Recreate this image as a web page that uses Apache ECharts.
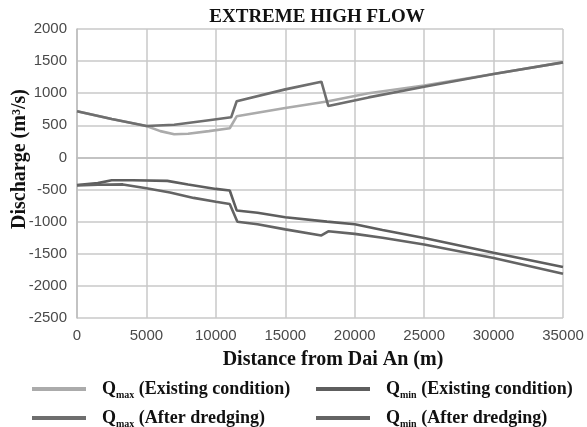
<!DOCTYPE html>
<html>
<head>
<meta charset="utf-8">
<script src="https://cdn.jsdelivr.net/npm/echarts@6/dist/echarts.min.js"></script>
<style>
  html, body { margin: 0; padding: 0; background: #fff; }
  #chart { width: 587px; height: 427px; }
</style>
</head>
<body>
<div id="chart"></div>
<script>
// Distance along the river (m) and discharge (m3/s) for each scenario
const qmaxExistX = [0, 2500, 5000, 6000, 7000, 8000, 9500, 11000, 11500, 15000, 18000, 21000, 25000, 30000, 35000];
const qmaxExistY = [720, 600, 490, 410, 360, 370, 410, 455, 640, 770, 870, 1000, 1120, 1300, 1480];

const qmaxDredgeX = [0, 2500, 5000, 7000, 9500, 11100, 11500, 15000, 17600, 18100, 21000, 25000, 30000, 35000];
const qmaxDredgeY = [720, 600, 490, 510, 580, 625, 875, 1060, 1180, 800, 935, 1100, 1300, 1480];

const qminExistX = [0, 1500, 2500, 4000, 6500, 8000, 10000, 11000, 11500, 13000, 15000, 18000, 20000, 22000, 25000, 30000, 35000];
const qminExistY = [-430, -400, -355, -355, -365, -420, -490, -515, -825, -860, -930, -1000, -1040, -1130, -1255, -1485, -1705];

const qminDredgeX = [0, 1500, 3300, 5000, 6700, 8400, 10000, 11000, 11550, 13000, 15000, 17600, 18100, 20000, 22000, 25000, 30000, 35000];
const qminDredgeY = [-435, -425, -420, -480, -545, -630, -690, -725, -1000, -1040, -1120, -1215, -1150, -1190, -1250, -1355, -1565, -1810];

const seriesNames = ['Qmax (Existing condition)', 'Qmin (Existing condition)', 'Qmax (After dredging)', 'Qmin (After dredging)'];

const pairs = (xs, ys) => xs.map((x, i) => [x, ys[i]]);

const serif = '"Liberation Serif", "DejaVu Serif", serif';
const sans = '"Liberation Sans", Arial, sans-serif';

const legendRich = {
  q: { fontFamily: serif, fontWeight: 'bold', fontSize: 18, color: '#111', lineHeight: 22 },
  s: { fontFamily: serif, fontWeight: 'bold', fontSize: 10, color: '#111', lineHeight: 22, verticalAlign: 'bottom', padding: [5, 0, 0, 0] },
  t: { fontFamily: serif, fontWeight: 'bold', fontSize: 18, color: '#111', lineHeight: 22 }
};
const legendFormatter = name => {
  const m = name.match(/^Q(max|min)(.*)$/);
  return '{q|Q}{s|' + m[1] + '}{t|' + m[2] + '}';
};
const legendBase = {
  orient: 'vertical',
  top: 380,
  height: 90,
  itemWidth: 54,
  itemHeight: 4,
  itemGap: 9,
  icon: 'rect',
  padding: 0,
  formatter: legendFormatter,
  textStyle: { rich: legendRich, padding: [0, 0, 0, 11] },
  selectedMode: false
};

const lineStyle = (color) => ({ color: color, width: 2.6 });
const plain = v => String(v);

const chart = echarts.init(document.getElementById('chart'), null, { renderer: 'canvas' });
chart.setOption({
  animation: false,
  backgroundColor: '#fff',
  title: {
    text: 'EXTREME HIGH FLOW',
    left: 312,
    textAlign: 'center',
    top: 3,
    textStyle: { fontFamily: serif, fontWeight: 'bold', fontSize: 19, color: '#111' }
  },
  grid: { left: 77, right: 24, top: 29, bottom: 109, containLabel: false, outerBoundsMode: 'none' },
  legend: [
    Object.assign({}, legendBase, { left: 32, data: [seriesNames[0], seriesNames[2]] }),
    Object.assign({}, legendBase, { left: 316, data: [seriesNames[1], seriesNames[3]] })
  ],
  xAxis: {
    type: 'value',
    min: 0,
    max: 35000,
    interval: 5000,
    name: 'Distance from Dai An (m)',
    nameLocation: 'middle',
    nameGap: 32,
    nameMoveOverlap: false,
    nameTextStyle: { fontFamily: serif, fontWeight: 'bold', fontSize: 20, color: '#111', padding: [0, 0, 0, 26] },
    axisLine: { show: true, lineStyle: { color: '#bdbdbd', width: 1.5 } },
    axisTick: { show: false },
    axisLabel: { fontFamily: sans, fontSize: 15, color: '#4a4a4a', margin: 10, formatter: plain },
    splitLine: { show: true, lineStyle: { color: '#c8c8c8', width: 1.5 } }
  },
  yAxis: {
    type: 'value',
    min: -2500,
    max: 2000,
    interval: 500,
    name: 'Discharge (m³/s)',
    nameLocation: 'middle',
    nameGap: 47,
    nameMoveOverlap: false,
    nameRotate: 90,
    nameTextStyle: { fontFamily: serif, fontWeight: 'bold', fontSize: 20, color: '#111', padding: [0, 0, 0, 29] },
    axisLine: { show: true, lineStyle: { color: '#bdbdbd', width: 1.5 } },
    axisTick: { show: false },
    axisLabel: { fontFamily: sans, fontSize: 15, color: '#4a4a4a', margin: 10, formatter: plain },
    splitLine: { show: true, lineStyle: { color: '#c8c8c8', width: 1.5 } }
  },
  series: [
    { name: seriesNames[0], type: 'line', data: pairs(qmaxExistX, qmaxExistY), showSymbol: false, lineStyle: lineStyle('#ababab'), itemStyle: { color: '#ababab' }, z: 2 },
    { name: seriesNames[1], type: 'line', data: pairs(qminExistX, qminExistY), showSymbol: false, lineStyle: lineStyle('#5e5e5e'), itemStyle: { color: '#5e5e5e' }, z: 3 },
    { name: seriesNames[2], type: 'line', data: pairs(qmaxDredgeX, qmaxDredgeY), showSymbol: false, lineStyle: lineStyle('#6e6e6e'), itemStyle: { color: '#6e6e6e' }, z: 3 },
    { name: seriesNames[3], type: 'line', data: pairs(qminDredgeX, qminDredgeY), showSymbol: false, lineStyle: lineStyle('#646464'), itemStyle: { color: '#646464' }, z: 3 }
  ]
});
</script>
</body>
</html>
